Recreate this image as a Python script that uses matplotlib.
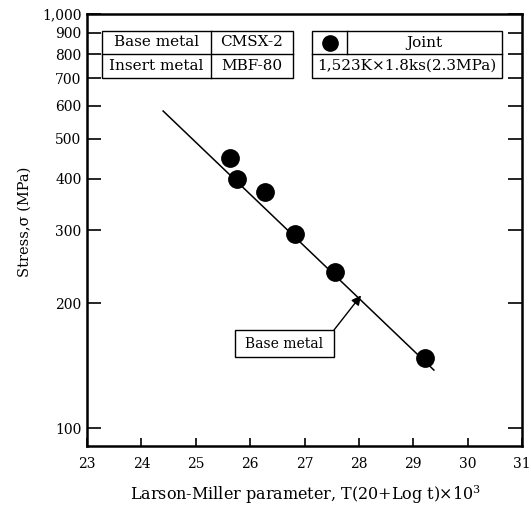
import matplotlib
matplotlib.use("Agg")
import matplotlib.pyplot as plt
from matplotlib.patches import Rectangle
from matplotlib.lines import Line2D
from matplotlib.ticker import FixedLocator, NullLocator

plt.rcParams['font.family'] = ['DejaVu Serif']
plt.rcParams['mathtext.fontset'] = 'dejavuserif'

# Data
joint_lmp = [25.63, 25.76, 26.27, 26.83, 27.56, 29.22]
joint_stress = [449, 399, 372, 294, 238, 148]
base_lmp = [24.40, 29.38]
base_stress = [583, 138]
x_ticks = [23, 24, 25, 26, 27, 28, 29, 30, 31]
y_ticks = [100, 200, 300, 400, 500, 600, 700, 800, 900, 1000]
y_tick_labels = ['100', '200', '300', '400', '500', '600', '700', '800', '900', '1,000']
table_left = [['Base metal', 'CMSX-2'], ['Insert metal', 'MBF-80']]
joint_label = 'Joint'
joint_cond = '1,523K×1.8ks(2.3MPa)'
arrow_label = 'Base metal'
arrow_tip = (28.04, 209)

fig = plt.figure(figsize=(5.31, 5.05), dpi=100)
AX_L, AX_R, AX_T, AX_B = 87, 522, 14, 446
ax = fig.add_axes([AX_L/531, 1-AX_B/505, (AX_R-AX_L)/531, (AX_B-AX_T)/505])

ax.set_yscale('log')
ax.set_xlim(23, 31)
ax.set_ylim(10**(2 - 18/414), 1000)

ax.plot(base_lmp, base_stress, color='black', lw=1.1)
ax.plot(joint_lmp, joint_stress, 'o', color='black', ms=12.5, zorder=5)

ax.xaxis.set_major_locator(FixedLocator(x_ticks))
ax.set_xticklabels([str(v) for v in x_ticks])
ax.xaxis.set_minor_locator(NullLocator())
ax.yaxis.set_major_locator(FixedLocator(y_ticks))
ax.yaxis.set_minor_locator(NullLocator())
ax.set_yticklabels(y_tick_labels)

ax.tick_params(axis='y', which='major', direction='in', length=10, width=1.2,
               right=True, labelsize=10, pad=4)
ax.tick_params(axis='x', which='major', direction='in', length=6, width=1.2,
               top=False, labelsize=10, pad=8)
for s in ax.spines.values():
    s.set_linewidth(1.8)

ax.set_xlabel('Larson-Miller parameter, T(20+Log t)×10$^{3}$', fontsize=11.5, va='center')
ax.xaxis.set_label_coords(0.503, -0.112)
ax.set_ylabel('Stress,σ (MPa)', fontsize=10.5, va='center')
ax.yaxis.set_label_coords(-0.143, 0.519)

# Helper: pixel position -> axes fraction (layout only)
def px2ax(px, py):
    return (px - AX_L) / (AX_R - AX_L), (AX_B - py) / (AX_B - AX_T)

tr = ax.transAxes
lw = 1.0
fs_tab = 11
# left table
x0, yt = px2ax(102, 31)
xd, ym = px2ax(211, 54)
x1, yb = px2ax(293, 78)
ax.add_patch(Rectangle((x0, yb), x1 - x0, yt - yb, transform=tr, fill=False, lw=lw, color='black'))
ax.add_line(Line2D([x0, x1], [ym, ym], transform=tr, lw=lw, color='black'))
ax.add_line(Line2D([xd, xd], [yb, yt], transform=tr, lw=lw, color='black'))
ax.text((x0 + xd) / 2, (yt + ym) / 2, table_left[0][0], transform=tr, ha='center', va='center', fontsize=fs_tab)
ax.text((xd + x1) / 2, (yt + ym) / 2, table_left[0][1], transform=tr, ha='center', va='center', fontsize=fs_tab)
ax.text((x0 + xd) / 2, (ym + yb) / 2, table_left[1][0], transform=tr, ha='center', va='center', fontsize=fs_tab)
ax.text((xd + x1) / 2, (ym + yb) / 2, table_left[1][1], transform=tr, ha='center', va='center', fontsize=fs_tab)

# right table
rx0, _ = px2ax(312, 31)
rxd, _ = px2ax(347, 31)
rx1, _ = px2ax(502, 31)
ax.add_patch(Rectangle((rx0, yb), rx1 - rx0, yt - yb, transform=tr, fill=False, lw=lw, color='black'))
ax.add_line(Line2D([rx0, rx1], [ym, ym], transform=tr, lw=lw, color='black'))
ax.add_line(Line2D([rxd, rxd], [ym, yt], transform=tr, lw=lw, color='black'))
ax.plot([(rx0 + rxd) / 2], [(yt + ym) / 2], 'o', color='black', ms=11, transform=tr, clip_on=False)
ax.text((rxd + rx1) / 2, (yt + ym) / 2, joint_label, transform=tr, ha='center', va='center', fontsize=fs_tab)
ax.text((rx0 + rx1) / 2, (ym + yb) / 2, joint_cond, transform=tr, ha='center', va='center', fontsize=fs_tab)

# "Base metal" callout box + arrow
bx0, by1 = px2ax(235, 330)
bx1, by0 = px2ax(334, 357)
ax.add_patch(Rectangle((bx0, by0), bx1 - bx0, by1 - by0, transform=tr, fc='white', ec='black', lw=1.0, zorder=6))
ax.text((bx0 + bx1) / 2, (by0 + by1) / 2, arrow_label, transform=tr, ha='center', va='center', fontsize=10, zorder=7)
ax.annotate('', xy=arrow_tip, xycoords='data', xytext=(bx1, by1), textcoords='axes fraction',
            arrowprops=dict(arrowstyle='-|>', color='black', lw=1.0, mutation_scale=14,
                            shrinkA=0, shrinkB=0))

fig.savefig('out.png', dpi=100)
